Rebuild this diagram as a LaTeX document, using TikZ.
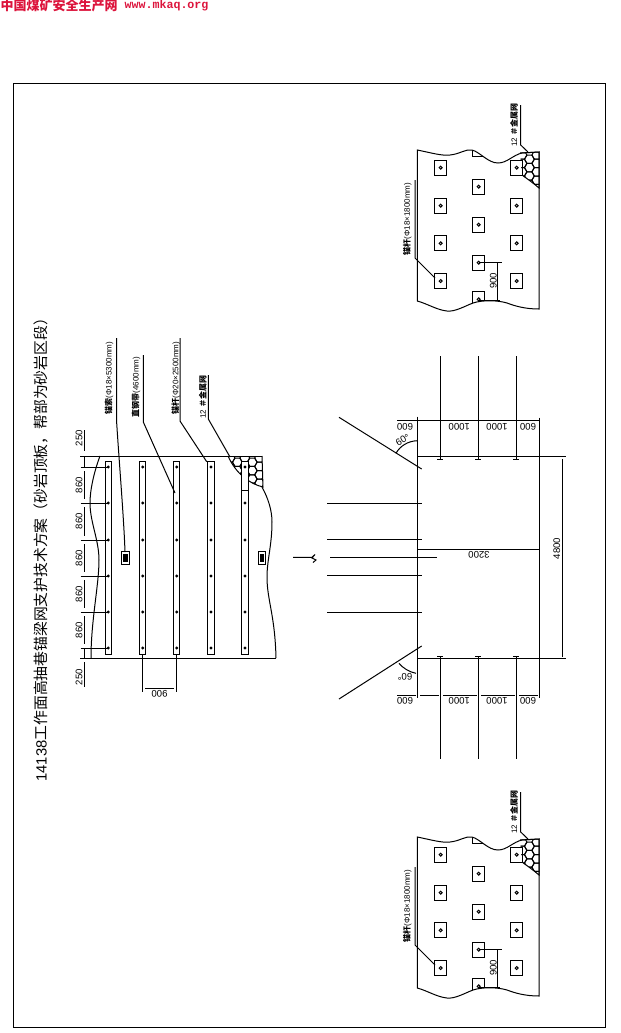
\documentclass[tikz,border=0pt]{standalone}
\usepackage{fontspec}
\setmainfont{Liberation Sans}
\newfontfamily\cjk{Noto Sans CJK SC}
\newfontfamily\webmono{Liberation Mono}
\usetikzlibrary{positioning}
\definecolor{headred}{RGB}{220,20,60}

\newcommand{\meshcells}[4]{% x0, y0, columns, rows
  \foreach \c in {0,...,#3} \foreach \r in {0,...,#4} {
    \pgfmathsetmacro{\hx}{#1+7.4*\c}
    \pgfmathsetmacro{\hy}{#2+8.4*\r+4.2*mod(\c,2)}
    \draw (\hx,\hy) +(4.9,0) -- +(2.45,-4.2) -- +(-2.45,-4.2) -- +(-4.9,0) -- +(-2.45,4.2) -- +(2.45,4.2) -- cycle;
  }}

\def\planedge{(417.3,150) .. controls (432,153) and (442,156) .. (450,155) .. controls (460,154) and (465,149) .. (472,150) .. controls (480,152) and (488,163) .. (498,163) .. controls (507,163) and (513,155) .. (522,153) -- (539,152) -- (539,309) .. controls (525,309) and (515,306) .. (507,303) .. controls (497,300) and (482,300) .. (473,303) .. controls (465,306) and (455,312) .. (447,311) .. controls (437,310) and (428,304) .. (417.3,301) -- cycle}

\newcommand{\planview}[2]{% name, vertical shift
  \begin{scope}[shift={(0,#2)}]
    %Plan outline
    \draw \planedge;
    \begin{scope}
      \clip \planedge;
      %Plates
      \foreach \py in {167.7,205.7,243.3,281} {
        \draw (434.5,\py-7.5) rectangle (446.9,\py+7.5);
        \draw (440.7,\py) circle (1.5);
        \draw (510.5,\py-7.5) rectangle (522.9,\py+7.5);
        \draw (516.7,\py) circle (1.5);
      }
      \foreach \py in {148.7,186.7,224.7,262.7,299.3} {
        \draw (472.5,\py-7.5) rectangle (484.9,\py+7.5);
        \draw (478.7,\py) circle (1.5);
      }
      %Mesh corner
      \clip (520,153) -- (539,152) -- (539,188) .. controls (532,182) and (526,178) .. (522,175) -- cycle;
      \meshcells{522}{155}{3}{5}
    \end{scope}
    \draw (520,153) -- (539,152) -- (539,188) .. controls (532,182) and (526,178) .. (522,175);
    %Leaders
    \draw (520.7,105) -- (520.7,145) -- (528,152);
    \draw (415,180) -- (415,258) -- (435,278);
    %Dimension 900
    \draw (479,262) -- (501.7,262);
    \draw (479,300.7) -- (500,300.7);
    \draw (497.3,262) -- (497.3,300.7);
    % Text Node
    \node (#1mesh) [smalltext] at (514,125) {12 {\cjk\bfseries ＃金属网}};
    \node (#1bolt) [smalltext] at (407.3,219) {{\cjk\bfseries 锚杆}(Φ18×1800mm)};
    \node (#1gap) [dimtext,rotate=90] at (493.3,280.7) {900};
  \end{scope}
}

\tikzset{
  dimtext/.style={inner sep=0pt,font=\fontsize{7.2}{8}\selectfont},
  smalltext/.style={inner sep=0pt,rotate=90,font=\fontsize{6}{7}\selectfont},
  bolthole/.style={fill=black,draw=none}
}

\begin{document}
\begin{tikzpicture}[x=0.75pt,y=0.75pt,yscale=-1,xscale=1,line width=0.75pt]
\useasboundingbox (0,0) rectangle (621,1033);

% Header
\node (headcn) [anchor=west,inner sep=0pt,text=headred,font=\cjk\bfseries\fontsize{9.75}{10}\selectfont] at (0,6) {中国煤矿安全生产网};
\node (headweb) [anchor=west,inner sep=0pt,text=headred,font=\webmono\bfseries\fontsize{8.75}{10}\selectfont] at (124,6) {www.mkaq.org};

%Frame
\draw (13.3,83.3) rectangle (605.3,1027.7);

% Title
\node (title) [anchor=west,rotate=90,inner sep=0pt,font=\fontsize{11.1}{12}\selectfont] at (41,782) {14138{\cjk 工作面高抽巷锚梁网支护技术方案（砂岩顶板，帮部为砂岩区段）}};

%Roof plan: limits
\draw (80,456) -- (262,456);
\draw (80,658) -- (276,658);
%Wavy edges
\draw (100,456) .. controls (94,472) and (90,490) .. (90,503) .. controls (90,522) and (99,540) .. (99,560) .. controls (99,585) and (91,620) .. (91,658);
\draw (262,487) .. controls (268,498) and (272,510) .. (272,522) .. controls (272,545) and (267,560) .. (267,577) .. controls (267,600) and (275,615) .. (276,658);
%Beams and bolts
\foreach \bx in {108.3,142.7,176.7,211,245} {
  \draw (\bx-3.2,461.7) rectangle (\bx+3.2,654);
  \foreach \by in {467,503,540,576,612,648}
    \draw [bolthole] (\bx,\by) circle (1.6);
}
%Mesh
\begin{scope}
  \clip (228,456) -- (262,456) -- (263,487) .. controls (250,484) and (236,474) .. (228,456) -- cycle;
  \meshcells{230}{458}{5}{4}
\end{scope}
\draw (228,456) .. controls (236,474) and (250,484) .. (263,487) -- (262,456);
\draw [fill=white] (241.8,461.7) -- (248.2,461.7) -- (248.2,490) -- (241.8,490) -- cycle;
\draw [bolthole] (245,467) circle (1.6);
%Dimension ticks
\foreach \by in {467,503,540,576,612,648}
  \draw (80.7,\by) -- (108.3,\by);
\foreach \ya/\yb in {430/451,456/467,471/499,507/536,544/572,580/608,616/644,648/658,662/687}
  \draw (84,\ya) -- (84,\yb);
%Width 900
\draw (142.7,654) -- (142.7,692);
\draw (176.7,654) -- (176.7,692);
\draw (145,688) -- (174,688);
%Small plates
\draw (121.3,551.7) rectangle (129.3,564.3);
\draw [fill=black] (123.3,554.5) rectangle (127.3,561.5);
\draw (258.3,551.7) rectangle (265.7,564.3);
\draw [fill=black] (260.3,554.5) rectangle (263.7,561.5);
%Leaders
\draw (116.7,338) -- (116.7,423) .. controls (119,460) and (124,520) .. (125,552);
\draw (143.3,355) -- (143.3,422) -- (175,493);
\draw (180,338) -- (180,421) -- (206.7,461.7);
\draw (208.3,375) -- (208.3,419) -- (230,457);

% Text Node
\node (rope) [smalltext] at (109,378) {{\cjk\bfseries 锚索}(Φ18×5300mm)};
\node (strap) [smalltext] at (136,387) {{\cjk\bfseries 直钢带}(4600mm)};
\node (rock) [smalltext] at (175.7,378) {{\cjk\bfseries 锚杆}(Φ20×2500mm)};
\node (meshtop) [smalltext] at (202.7,397) {12 {\cjk\bfseries ＃金属网}};
\node (d1) [dimtext,rotate=90] at (79,438) {250};
\node (d2) [dimtext,rotate=90] at (79,485) {860};
\node (d3) [dimtext,rotate=90] at (79,521) {860};
\node (d4) [dimtext,rotate=90] at (79,558) {860};
\node (d5) [dimtext,rotate=90] at (79,594) {860};
\node (d6) [dimtext,rotate=90] at (79,630) {860};
\node (d7) [dimtext,rotate=90] at (79,677) {250};
\node (d8) [dimtext,rotate=180] at (159.5,693.5) {900};

%Break mark
\draw (293,557.3) -- (312,557.3) -- (315,554.5) -- (312,558) -- (316,560) -- (313,562.5);

%Section: walls, roof and floor
\draw (417.7,416.7) -- (417.7,698);
\draw (539.3,417.7) -- (539.3,698);
\draw (417.7,456.7) -- (565.7,456.7);
\draw (417.7,658.3) -- (565.7,658.3);
%Roof and floor bolts
\foreach \sx in {440.3,478.3,516.3} {
  \draw (\sx,356) -- (\sx,459.3);
  \draw (\sx-3,459.3) -- (\sx+3,459.3);
  \draw (\sx,656) -- (\sx,759);
  \draw (\sx-3,656) -- (\sx+3,656);
}
%Rib bolts
\foreach \sy in {503.3,539.3,575.3,612.3}
  \draw (327,\sy) -- (421.7,\sy);
\draw (330,557.3) -- (436.7,557.3);
%Angled bolts
\draw (339,417.3) -- (421.7,469);
\draw (339,699) -- (421.7,646);
\draw (417.3,440.7) .. controls (408,441) and (400,446) .. (396,453.3);
\draw (416,673.3) .. controls (409,672) and (403,668) .. (399,663.3);
%Dimension rows
\draw (397.3,420.3) -- (539.3,420.3);
\foreach \xa/\xb in {397.3/415.5,420/439,443/476.5,481/514.5,519/537.5}
  \draw (\xa,695) -- (\xb,695);
\draw (417.7,549.3) -- (539.3,549.3);
\draw (562.3,459) -- (562.3,656.7);

% Text Node
\node (h3200) [dimtext,rotate=180] at (479,555) {3200};
\node (h4800) [dimtext,rotate=90] at (556.7,548.5) {4800};
\node (t600a) [dimtext,rotate=180] at (405,426.3) {600};
\node (t1000a) [dimtext,rotate=180] at (459.3,426.3) {1000};
\node (t1000b) [dimtext,rotate=180] at (497,426.3) {1000};
\node (t600b) [dimtext,rotate=180] at (528,426.3) {600};
\node (b600a) [dimtext,rotate=180] at (405,700.7) {600};
\node (b1000a) [dimtext,rotate=180] at (459.3,700.7) {1000};
\node (b1000b) [dimtext,rotate=180] at (497,700.7) {1000};
\node (b600b) [dimtext,rotate=180] at (528,700.7) {600};
\node (ang60) [dimtext,rotate=30] at (402.7,440) {60°};
\node (ang50) [dimtext,rotate=180] at (405,676.5) {60°};

%Rib plan views
\planview{upper}{0}
\planview{lower}{687}

\end{tikzpicture}
\end{document}
